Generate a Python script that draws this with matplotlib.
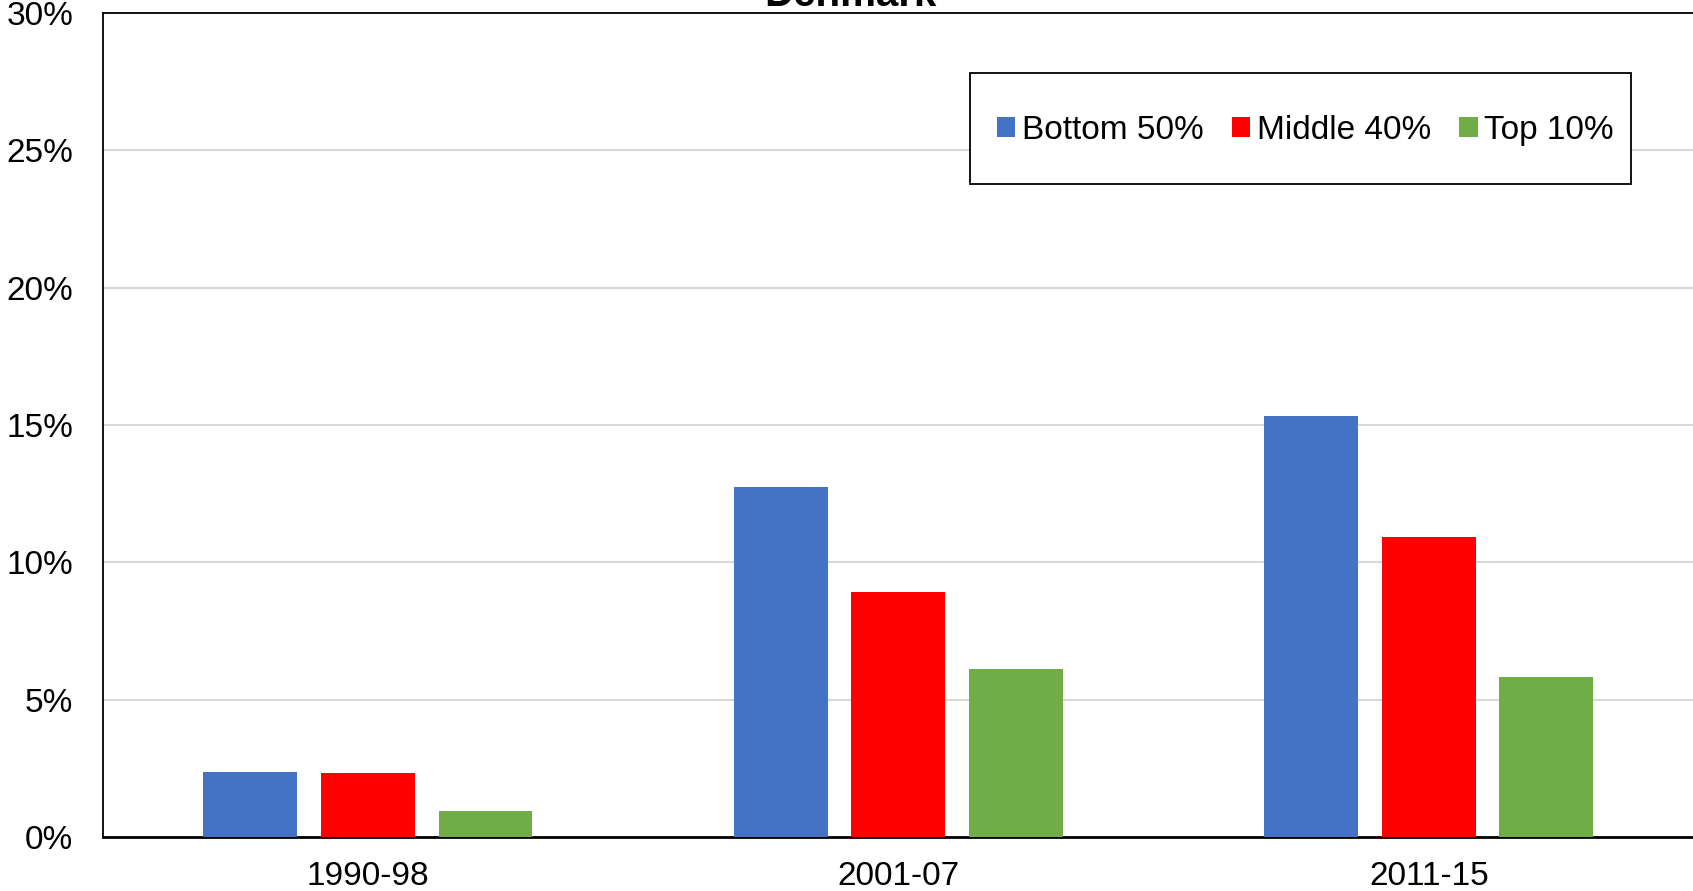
import matplotlib
matplotlib.use("Agg")
import matplotlib.pyplot as plt
import numpy as np
from matplotlib.patches import Rectangle
from matplotlib.ticker import FuncFormatter

plt.rcParams['font.family'] = ['Liberation Sans', 'DejaVu Sans']

categories = ["1990-98", "2001-07", "2011-15"]
series_names = ["Bottom 50%", "Middle 40%", "Top 10%"]
bottom50 = [2.36, 12.74, 15.33]
middle40 = [2.32, 8.92, 10.93]
top10 = [0.94, 6.13, 5.82]
colors = ["#4472C4", "#FF0000", "#70AD47"]
title = "Denmark"

W, H = 1693, 891
fig = plt.figure(figsize=(W / 100, H / 100), dpi=100)
ax = fig.add_axes([102.6 / W, 1 - 837 / H, (1694 - 102.6) / W, (837 - 13) / H])

x = np.arange(len(categories))
width = 0.177
offset = 0.2218
for i, (vals, name, c) in enumerate(zip([bottom50, middle40, top10], series_names, colors)):
    ax.bar(x + (i - 1) * offset, vals, width=width, color=c, label=name, zorder=3)

ax.set_xlim(-0.5, len(categories) - 0.5)
ax.set_ylim(0, 30)
ax.set_yticks(np.arange(0, 31, 5))
ax.yaxis.set_major_formatter(FuncFormatter(lambda v, p: f"{int(v)}%"))
ax.set_xticks(x)
ax.set_xticklabels(categories)
ax.grid(axis='y', color='#d9d9d9', linewidth=1.5, zorder=0)
ax.set_axisbelow(True)
ax.tick_params(axis='y', length=0, pad=21, labelsize=24)
ax.tick_params(axis='x', length=0, pad=17, labelsize=24)
for s in ax.spines.values():
    s.set_color('black')
    s.set_linewidth(1.3)
ax.spines['bottom'].set_linewidth(2.0)

# legend frame
lx0, lx1, ly0, ly1 = 969.6, 1631, 73.4, 183.5
fig.patches.append(Rectangle((lx0 / W, 1 - ly1 / H), (lx1 - lx0) / W, (ly1 - ly0) / H,
                             transform=fig.transFigure, facecolor='white', edgecolor='black',
                             linewidth=1.3, zorder=10))
leg = fig.legend(loc='center', bbox_to_anchor=((lx0 + lx1) / 2 / W + 5 / W, 1 - (ly0 + ly1) / 2 / H - 2 / H),
                 ncol=3, frameon=False, fontsize=24, handlelength=0.55, handleheight=0.55,
                 handletextpad=0.2, columnspacing=0.85)
leg.set_zorder(11)

fig.text(850 / W, 1 - 6.5 / H, title, ha='center', va='baseline', fontsize=29, fontweight='bold')

fig.savefig("out.png", dpi=100)
